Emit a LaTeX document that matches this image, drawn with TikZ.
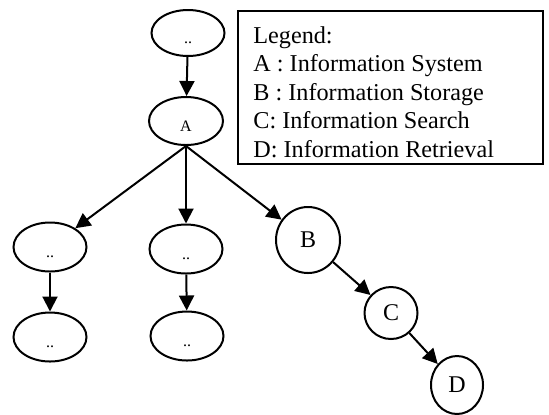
\documentclass[tikz,border=0pt]{standalone}
\usepackage{fontspec}
\setmainfont{Liberation Serif}
\usetikzlibrary{arrows.meta,positioning,shapes.geometric}
\tikzset{
  dotnode/.style = {ellipse, draw, line width=1pt, inner sep=0pt, minimum width=36.5pt, minimum height=24.5pt, font=\fontsize{8}{9}\selectfont, text height=10pt, text depth=0pt},
  lettnode/.style = {ellipse, draw, line width=1pt, inner sep=0pt, font=\fontsize{12}{14}\selectfont},
  treearrow/.style = {-{Triangle[length=7.5pt,width=7.5pt]}, line width=1pt},
  legendbox/.style = {rectangle, draw, line width=1pt, anchor=north west, minimum width=152.5pt, minimum height=76.5pt, inner sep=0pt},
  legendtext/.style = {anchor=north west, align=left, inner sep=0pt, font=\fontsize{12.1}{14.25}\selectfont},
}

\begin{document}
\begin{tikzpicture}[x=0.5pt, y=-0.5pt]
\useasboundingbox (0,0) rectangle (549,414);

% root chain
\node[dotnode, minimum height=23pt] (top) at (188,33) {..};
\node[dotnode, minimum width=37pt, minimum height=24pt] (A) at (186,121) {A};

% left and middle branches
\node[dotnode] (m1) at (50,247) {..};
\node[dotnode] (m2) at (186,249) {..};
\node[dotnode] (b1) at (50,337) {..};
\node[dotnode] (b2) at (187,336) {..};

% right branch: B, C, D
\node[lettnode, minimum width=32pt, minimum height=33pt] (B) at (308,240) {B};
\node[lettnode, minimum width=26.5pt, minimum height=26pt] (C) at (391,313) {C};
\node[lettnode, minimum width=26pt, minimum height=29pt] (D) at (457,385) {D};

% edges
\draw[treearrow] (top) -- (A);
\draw[treearrow] (A.south) -- (m1);
\draw[treearrow] (A.south) -- (m2);
\draw[treearrow] (A.south) -- (B);
\draw[treearrow] (m1) -- (b1);
\draw[treearrow] (m2) -- (b2);
\draw[treearrow] (B) -- (C);
\draw[treearrow] (C) -- (D);

% legend
\node[legendbox] (legend) at (237,10) {};
\node[legendtext] (legendtxt) at (253,26) {Legend:\\A : Information System\\B : Information Storage\\C: Information Search\\D: Information Retrieval};

\end{tikzpicture}
\end{document}
